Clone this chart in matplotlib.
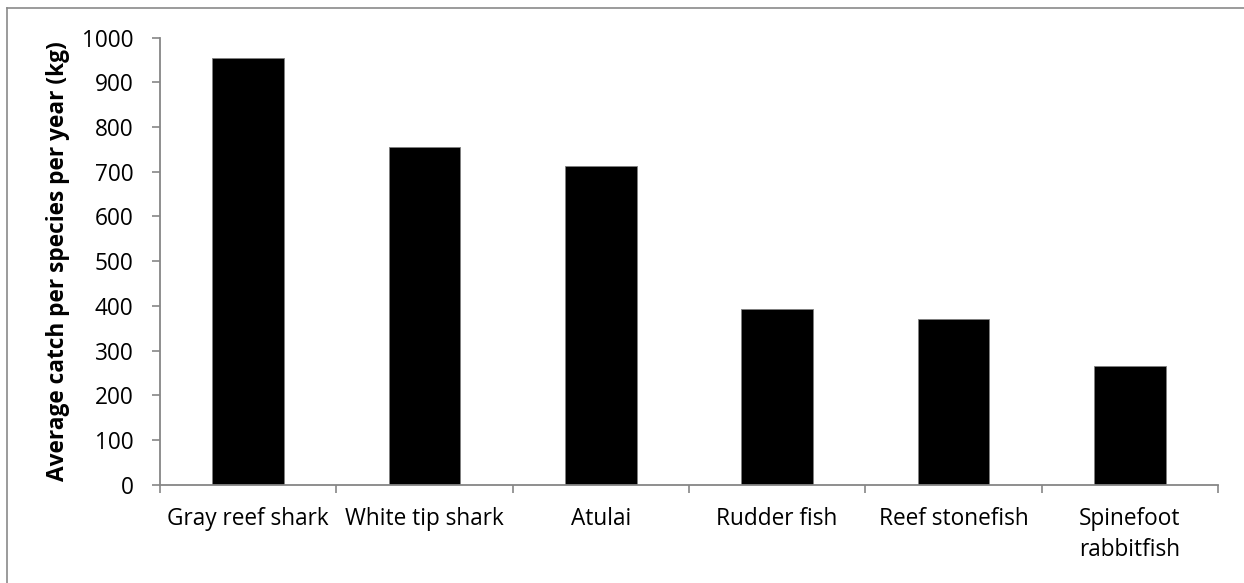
import matplotlib
matplotlib.use("Agg")
import matplotlib.pyplot as plt
from matplotlib.lines import Line2D
from matplotlib.ticker import FixedLocator, NullFormatter

species = ["Gray reef shark", "White tip shark", "Atulai", "Rudder fish",
           "Reef stonefish", "Spinefoot\nrabbitfish"]
catch_kg = [954, 755, 712, 392, 370, 266]
y_ticks = [0, 100, 200, 300, 400, 500, 600, 700, 800, 900, 1000]

W, H = 1244, 583
plt.rcParams["font.family"] = ["Open Sans", "DejaVu Sans"]
FS = 16.3

fig = plt.figure(figsize=(W / 100, H / 100), dpi=100)
ax = fig.add_axes([160 / W, 1 - 484.6 / H, (1218 - 160) / W, (484.6 - 37.7) / H])

x = list(range(len(species)))
ax.bar(x, catch_kg, width=0.405, color="black", edgecolor="#7f7f7f", linewidth=0.6)

axis_gray = "#868686"
ax.set_xlim(-0.5, len(species) - 0.5)
ax.set_ylim(0, 1000)
ax.set_yticks(y_ticks)
ax.set_yticklabels([str(v) for v in y_ticks])

ax.set_xticks(x)
ax.set_xticklabels(species, linespacing=1.4)
ax.tick_params(axis="x", which="major", length=0, pad=16)
ax.xaxis.set_minor_locator(FixedLocator([i - 0.5 for i in range(len(species) + 1)]))
ax.xaxis.set_minor_formatter(NullFormatter())
ax.tick_params(axis="x", which="minor", length=6, width=1.2, color=axis_gray, direction="out")
ax.tick_params(axis="y", length=6, width=1.2, color=axis_gray, direction="out", pad=13)
ax.tick_params(labelsize=FS, labelcolor="black")

for side in ("top", "right"):
    ax.spines[side].set_visible(False)
for side in ("left", "bottom"):
    ax.spines[side].set_color(axis_gray)
    ax.spines[side].set_linewidth(1.3)

ax.set_ylabel("Average catch per species per year (kg)", fontsize=FS, fontweight="bold")
ax.yaxis.set_label_coords((70 - 160) / (1218 - 160), 0.5)

# chart-area border (left and top edges)
fig.add_artist(Line2D([7 / W, 7 / W], [0, 1 - 8 / H], transform=fig.transFigure,
                      color="#8a8a8a", linewidth=1.2))
fig.add_artist(Line2D([7 / W, 1], [1 - 8 / H, 1 - 8 / H], transform=fig.transFigure,
                      color="#8a8a8a", linewidth=1.2))

fig.savefig("out.png", dpi=100)
